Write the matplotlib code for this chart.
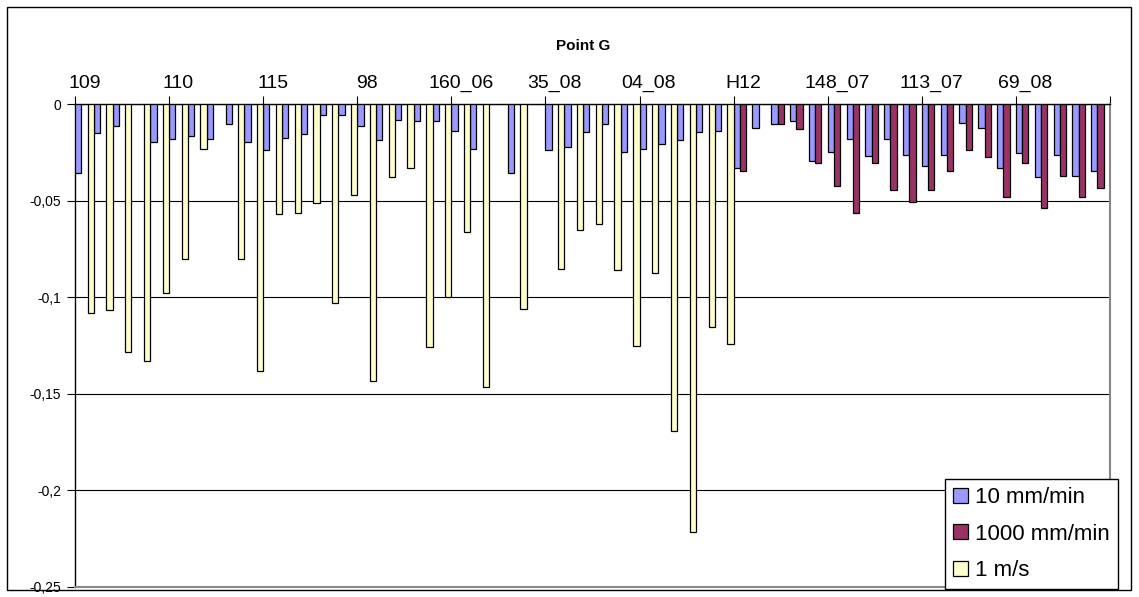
import numpy as np
import matplotlib
matplotlib.use("Agg")
from matplotlib import pyplot as plt
from matplotlib.patches import Rectangle
from matplotlib.ticker import FuncFormatter

nan = np.nan

# first specimen name of each group of 5 categories
group_labels = ["109", "110", "115", "98", "160_06", "35_08", "04_08",
                "H12", "148_07", "113_07", "69_08"]

slow = [-0.0355, -0.0148, -0.0114, nan, -0.0197,
        -0.0181, -0.0166, -0.0181, -0.0105, -0.0197,
        -0.0238, -0.0174, -0.0155, -0.0057, -0.0057,
        -0.0114, -0.0188, -0.0083, -0.0090, -0.0090,
        -0.0140, -0.0231, nan, -0.0355, nan,
        -0.0238, -0.0224, -0.0147, -0.0105, -0.0247,
        -0.0231, -0.0207, -0.0188, -0.0147, -0.0140,
        -0.0330, -0.0122, -0.0105, -0.0090, -0.0295,
        -0.0247, -0.0181, -0.0271, -0.0181, -0.0264,
        -0.0321, -0.0264, -0.0098, -0.0122, -0.0330,
        -0.0255, -0.0380, -0.0264, -0.0373, -0.0347]

medium = [nan] * 35 + [
        -0.0347, nan, -0.0105, -0.0131, -0.0305,
        -0.0423, -0.0562, -0.0305, -0.0447, -0.0506,
        -0.0447, -0.0347, -0.0238, -0.0272, -0.0480,
        -0.0305, -0.0537, -0.0373, -0.0480, -0.0436]

fast = [-0.1084, -0.1066, -0.1284, -0.1332, -0.0977,
        -0.0802, -0.0231, nan, -0.0802, -0.1380,
        -0.0571, -0.0562, -0.0514, -0.1028, -0.0471,
        -0.1432, -0.0380, -0.0330, -0.1256, -0.1001,
        -0.0663, -0.1467, nan, -0.1059, nan,
        -0.0852, -0.0654, -0.0621, -0.0861, -0.1251,
        -0.0876, -0.1690, -0.2214, -0.1153, -0.1242] + [nan] * 20

series = [("10 mm/min", slow, "#9999FF"),
          ("1000 mm/min", medium, "#993366"),
          ("1 m/s", fast, "#FFFFCC")]

W, H = 1139, 597
fig = plt.figure(figsize=(W / 100, H / 100), dpi=100)
plt.rcParams['font.family'] = ['Liberation Sans', 'DejaVu Sans']

# outer chart frame
fig.patches.append(Rectangle((7 / W, 7 / H), (1131 - 7) / W, (590 - 7) / H,
                             transform=fig.transFigure, fill=False,
                             edgecolor="black", linewidth=1))

ax = fig.add_axes([75 / W, (H - 587) / H, 1035 / W, 483 / H])

n = len(slow)
x = np.arange(n)
bw = 1 / 3
for i, (name, vals, col) in enumerate(series):
    ax.bar(x + i * bw, vals, width=bw, align="edge", color=col,
           edgecolor="black", linewidth=0.9, label=name, zorder=3)

ax.set_xlim(0, n)
ax.set_ylim(-0.25, 0)
ax.set_yticks(np.arange(-0.25, 0.001, 0.05))
ax.yaxis.set_major_formatter(FuncFormatter(
    lambda v, p: "0" if abs(v) < 1e-9 else ("%g" % round(v, 2)).replace(".", ",")))
ax.tick_params(axis="y", labelsize=10, length=6, width=0.8, direction="out",
               pad=4)
ax.yaxis.grid(True, color="black", linewidth=0.8, zorder=0)

# category axis on top: ticks between groups, labels on first category
ax.xaxis.tick_top()
ax.set_xticks(np.arange(0, n + 1, 5))
ax.set_xticklabels([])
ax.set_xticks(np.arange(0, n, 5) + 0.5, minor=True)
ax.set_xticklabels(group_labels, minor=True, fontsize=14)
ax.tick_params(axis="x", which="major", length=6, width=0.8, direction="out")
ax.tick_params(axis="x", which="minor", length=0, pad=9)

for s in ["left", "top"]:
    ax.spines[s].set_color("black")
    ax.spines[s].set_linewidth(1)
for s in ["right", "bottom"]:
    ax.spines[s].set_color("#888888")
    ax.spines[s].set_linewidth(1.5)

fig.text(583 / W, 1 - 46 / H, "Point G", ha="center", va="center",
         fontsize=11, fontweight="bold")

leg = ax.legend(loc="lower right", bbox_to_anchor=(1118 / W, (H - 589) / H),
                bbox_transform=fig.transFigure, borderaxespad=0,
                fontsize=16, fancybox=False, edgecolor="black", framealpha=1,
                handlelength=0.65, handleheight=0.65, handletextpad=0.35,
                labelspacing=0.7, borderpad=0.35)
leg.get_frame().set_linewidth(1)
leg.set_zorder(5)

fig.savefig("out.png", dpi=100)
